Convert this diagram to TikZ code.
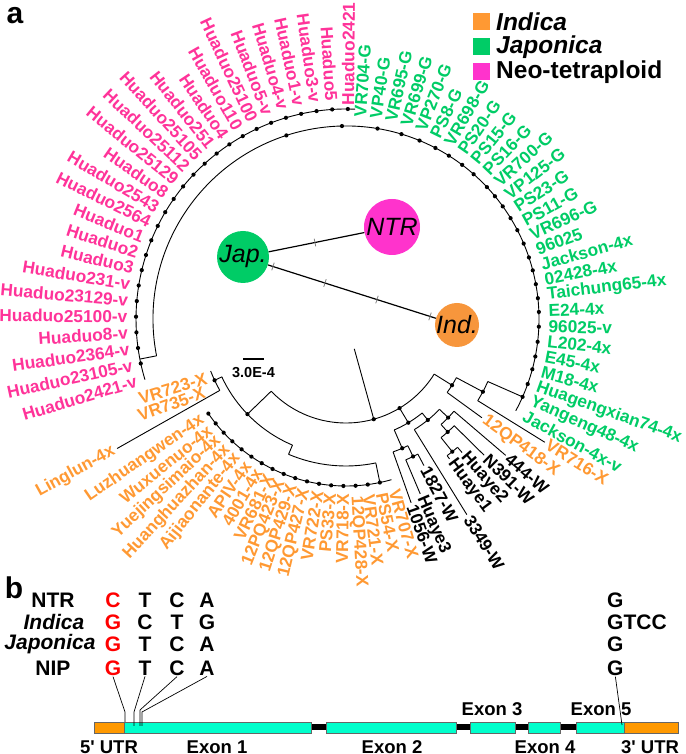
\documentclass[tikz,border=0pt]{standalone}
\usepackage{fontspec}
\setmainfont{Liberation Sans}
\usetikzlibrary{calc}
\definecolor{lor}{RGB}{255,153,51}
\definecolor{lgr}{RGB}{0,204,102}
\definecolor{lpk}{RGB}{255,51,153}
\definecolor{mag}{RGB}{255,51,204}
\definecolor{indc}{RGB}{247,150,60}
\definecolor{exc}{RGB}{0,255,204}
\definecolor{utrc}{RGB}{255,153,0}
\definecolor{snp}{RGB}{255,0,0}
\newcommand\TArc[3]{\draw[tree] ($(C)+(#1:#3)$) arc[start angle=#1,end angle=#2,radius=#3];}
\newcommand\TRad[3]{\draw[tree] ($(C)+(#1:#2)$) -- ($(C)+(#1:#3)$);}
\newcommand\TDot[2]{\fill ($(C)+(#1:#2)$) circle[radius=2.1];}
\begin{document}
\begin{tikzpicture}[x=1pt,y=1pt,
  tree/.style={line width=0.9pt,black},
  lab/.style={font=\fontsize{17.3}{17}\selectfont\bfseries,inner sep=0.5pt},
  leg/.style={font=\fontsize{24.5}{25}\selectfont\bfseries,anchor=west,inner sep=0pt},
  sq/.style={minimum size=17pt,inner sep=0pt},
  circtxt/.style={font=\fontsize{25}{25}\selectfont\itshape,inner sep=0pt},
  net/.style={line width=1.2pt},
  tickm/.style={gray,line width=0.8pt},
  seq/.style={font=\fontsize{21}{21}\selectfont\bfseries,inner sep=1pt},
  exl/.style={font=\fontsize{18.5}{19}\selectfont\bfseries,inner sep=0pt},
  exon/.style={fill=exc,draw=black!60,line width=0.6pt},
  utr/.style={fill=utrc,draw=black!60,line width=0.6pt},
  ptr/.style={line width=0.7pt},
  panel/.style={font=\fontsize{30}{30}\selectfont\bfseries,inner sep=0pt}
]
\useasboundingbox (0,0) rectangle (685,754);
\coordinate (C) at (346,435);

% panel letters
\node[panel] (pa) at (15,738) {a};
\node[panel] (pb) at (14,166) {b};

% legend
\node[sq,fill=lor] (sqI) at (481,732) {};
\node[leg] (lI) at (496,732) {\itshape Indica};
\node[sq,fill=lgr] (sqJ) at (481,707) {};
\node[leg] (lJ) at (496,707) {\itshape Japonica};
\node[sq,fill=mag] (sqN) at (481,682) {};
\node[leg] (lN) at (496,682) {Neo-tetraploid};

% ---------- tree ----------
% pink comb
\TArc{87.5}{196.8}{210}
\foreach \k in {0,...,24}{\pgfmathsetmacro\ang{89.5+4.28*\k}\TDot{\ang}{210}}
% green comb (continues over the top to the left)
\TArc{191}{-28.4}{193}
\TRad{191}{193}{210}
\foreach \ang in {108,91.2,80.6,73.3,67.6,62.4,57.8,53,48.6,43.1,39.5,35.7,31.5,27.4,23,18.6,14.6,10.4,6.2,2.1,-2.3,-6.8,-11.2,-15.1,-19.7,-23.8}{\TDot{\ang}{193}}

% root
\TRad{285.5}{31}{104}
\TDot{285.5}{104}
\TArc{224}{328}{104}
\TDot{301}{104}

% orange side
\TRad{224}{104}{137} \TDot{224}{137}
\TArc{205}{247}{137}
\TRad{205}{137}{145} \TDot{205}{145}
\TArc{201}{209.5}{145}
\TRad{209.5}{145}{263}
\TRad{247}{137}{147}
\TArc{247}{281.7}{147}
\TRad{281.7}{147}{167}
\TArc{214.5}{285.8}{167}
\foreach \k in {0,...,16}{\pgfmathsetmacro\ang{214.5+4.2*\k}\TDot{\ang}{167}}

% black clade
\TRad{301}{104}{121} \TDot{301}{121}
\TArc{293.5}{309}{121}
\TRad{293.5}{121}{141} \TDot{293.5}{141}
\TArc{289.5}{296}{141}
\TRad{289.5}{141}{195}
\TRad{296}{141}{153} \TDot{296}{153}
\TArc{293}{298}{153}
\TRad{293}{153}{190}
\TRad{298}{153}{166}
\TRad{309}{121}{130} \TDot{309}{130}
\TArc{301.7}{316}{130}
\TRad{301.7}{130}{230}
\TRad{316}{130}{142} \TDot{316}{142}
\TArc{312}{319.5}{142}
\TRad{319.5}{142}{210}
\TRad{312}{142}{152} \TDot{312}{152}
\TArc{308.7}{315.4}{152}
\TRad{315.4}{152}{194}
\TRad{308.7}{152}{170} \TDot{308.7}{170}
\TArc{306.5}{311}{170}
\TRad{306.5}{170}{174}
\TRad{311}{170}{177}

% chain to green comb
\TRad{328}{104}{125} \TDot{328}{125}
\TArc{324}{332}{125}
\TRad{324}{125}{168}
\TRad{332}{125}{155} \TDot{332}{155}
\TArc{328.2}{336.2}{155}
\TRad{328.2}{155}{234}
\TRad{336.2}{155}{193}

% ---------- labels ----------
\node[lab,text=lpk,anchor=west,rotate=89.5] (pkA) at ($(C)+(89.5:213)$) {Huaduo2421};
\foreach \lbl [count=\i from 1] in {Huaduo5,Huaduo3-v,Huaduo1-v,Huaduo4-v,Huaduo5-v,Huaduo25100,Huaduo110,Huaduo4,Huaduo251,Huaduo25105,Huaduo25112,Huaduo25129,Huaduo8,Huaduo2543,Huaduo2564,Huaduo1,Huaduo2,Huaduo3,Huaduo231-v,Huaduo23129-v,Huaduo25100-v,Huaduo8-v,Huaduo2364-v,Huaduo23105-v,Huaduo2421-v}{
  \pgfmathsetmacro\ang{89.5+4.28*\i}
  \node[lab,text=lpk,anchor=east,rotate=\ang-180] (pk\i) at ($(C)+(\ang:218)$) {\lbl};
}
\foreach \lbl [count=\i from 0] in {VR704-G,VP40-G,VR695-G,VR699-G,VP270-G,PS8-G,VR698-G,PS20-G,PS15-G,PS16-G,VR700-G,VP125-G,PS23-G,PS11-G,VR696-G,96025,Jackson-4x,02428-4x,Taichung65-4x,E24-4x,96025-v,L202-4x,E45-4x,M18-4x,Huagengxian74-4x,Yangeng48-4x,Jackson-4x-v}{
  \pgfmathsetmacro\ang{86-4.4*\i}
  \node[lab,text=lgr,anchor=west,rotate=\ang] (gk\i) at ($(C)+(\ang:202)$) {\lbl};
}
\node[lab,text=lor,anchor=east,rotate=17] (vr723) at (207,376) {VR723-X};
\node[lab,text=lor,anchor=east,rotate=20] (vr735) at (205,362) {VR735-X};
\node[lab,text=lor,anchor=east,rotate=29] (ling) at ($(C)+(209.5:266)$) {Linglun-4x};
\foreach \lbl [count=\i from 0] in {Luzhuangwen-4x,Wuxuenuo-4x,Yuejingsimaio-4x,Huanghuazhan-4x,Aijiaonante-4x,APIV-4x,4001-4x,VR681-X,12PQ423-X,12QP429-X,12QP427-X,VR722-X,PS33-X,VR718-X}{
  \pgfmathsetmacro\ang{214.7+4.18*\i}
  \node[lab,text=lor,anchor=east,rotate=\ang-180] (ok\i) at ($(C)+(\ang:174)$) {\lbl};
}
\foreach \lbl [count=\i from 14] in {12QP428-X,VR721-X,PS54-X,VR707-X}{
  \pgfmathsetmacro\ang{214.7+4.18*\i}
  \node[lab,text=lor,anchor=west,rotate=\ang] (ok\i) at ($(C)+(\ang:177)$) {\lbl};
}
\foreach \lbl/\ang/\rr [count=\i] in {1056-W/289.5/197,Huaye3/293/192,1827-W/298/168,3349-W/301.7/232,Huaye1/306.5/176,Huaye2/311/179,N391-W/315.4/196,444-W/319.5/212}{
  \node[lab,anchor=west,rotate=\ang] (bk\i) at ($(C)+(\ang:\rr)$) {\lbl};
}
\node[lab,text=lor,anchor=west,rotate=324] (q418) at ($(C)+(324:170)$) {12QP418-X};
\node[lab,text=lor,anchor=west,rotate=328.2] (v716) at ($(C)+(328.2:236)$) {VR716-X};

% ---------- network ----------
\node[circle,fill=lgr,minimum size=52pt,inner sep=0pt] (jap) at (243,497) {};
\node[circle,fill=mag,minimum size=56pt,inner sep=0pt] (ntr) at (392,527) {};
\node[circle,fill=indc,minimum size=44pt,inner sep=0pt] (ind) at (457,429) {};
\draw[net] (jap) -- (ntr);
\draw[net] (jap) -- (ind);
\coordinate (tn) at ($(jap)!0.483!(ntr)$);
\draw[tickm] ($(tn)!4pt!90:(ntr)$) -- ($(tn)!4pt!-90:(ntr)$);
\foreach \p [count=\k] in {0.14,0.383,0.626,0.874}{
  \coordinate (ti\k) at ($(jap)!\p!(ind)$);
  \draw[tickm] ($(ti\k)!4pt!90:(ind)$) -- ($(ti\k)!4pt!-90:(ind)$);
}
\node[circtxt] (japt) at (jap) {Jap.};
\node[circtxt] (ntrt) at (ntr) {NTR};
\node[circtxt] (indt) at (ind) {Ind.};

% scale bar
\coordinate (sb1) at (243,395);
\coordinate (sb2) at (264,395);
\draw[line width=2.5pt] (sb1) -- (sb2);
\node[font=\fontsize{14.5}{15}\selectfont\bfseries] (sbt) at (253.5,381) {3.0E-4};

% ---------- panel b ----------
\node[seq] (rN) at (53,154) {NTR};
\node[seq] (rI) at (54,132) {\itshape Indica};
\node[seq] (rJ) at (50,110) {\itshape Japonica};
\node[seq] (rP) at (53,86) {NIP};
\foreach \r/\y/\la/\lb/\lc/\ld in {N/154/C/T/C/A, I/132/G/C/T/G, J/110/G/T/C/A, P/86/G/T/C/A}{
  \node[seq,text=snp] (\r1) at (113,\y) {\la};
  \node[seq] (\r2) at (145,\y) {\lb};
  \node[seq] (\r3) at (177,\y) {\lc};
  \node[seq] (\r4) at (207,\y) {\ld};
}
\node[seq,anchor=west] (N5) at (606,154) {G};
\node[seq,anchor=west] (I5) at (606,132) {GTCC};
\node[seq,anchor=west] (J5) at (606,110) {G};
\node[seq,anchor=west] (P5) at (606,86) {G};

% gene model
\fill (311,23.5) rectangle (326,29.5);
\fill (456,23.5) rectangle (470,29.5);
\fill (515,23.5) rectangle (528,29.5);
\fill (560,23.5) rectangle (576,29.5);
\draw[utr] (94,21) rectangle (124,32);
\draw[exon] (124,21) rectangle (311,32);
\draw[exon] (326,21) rectangle (456,32);
\draw[exon] (470,21) rectangle (515,32);
\draw[exon] (528,21) rectangle (560,32);
\draw[exon] (576,21) rectangle (624,32);
\draw[utr] (624,21) rectangle (678,32);

% pointer lines
\coordinate (a1) at (125,42); \coordinate (b1) at (125,32);
\coordinate (a2) at (134,42); \coordinate (b2) at (134,28);
\coordinate (a3) at (140,44); \coordinate (b3) at (140,28);
\coordinate (a4) at (142,42); \coordinate (b4) at (142,28);
\coordinate (a5) at (622,29);
\draw[ptr] (P1.south) -- (a1) -- (b1);
\draw[ptr] (P2.south) -- (a2) -- (b2);
\draw[ptr] (P3.south) -- (a3) -- (b3);
\draw[ptr] (P4.south) -- (a4) -- (b4);
\draw[ptr] (P5.south) -- (a5);

\node[exl] (x5u) at (109,7) {5\textquotesingle\ UTR};
\node[exl] (x1) at (217,7) {Exon 1};
\node[exl] (x2) at (392,7) {Exon 2};
\node[exl] (x3) at (492,45) {Exon 3};
\node[exl] (x4) at (545,7) {Exon 4};
\node[exl] (x5) at (601,45) {Exon 5};
\node[exl] (x3u) at (650,7) {3\textquotesingle\ UTR};
\end{tikzpicture}
\end{document}
